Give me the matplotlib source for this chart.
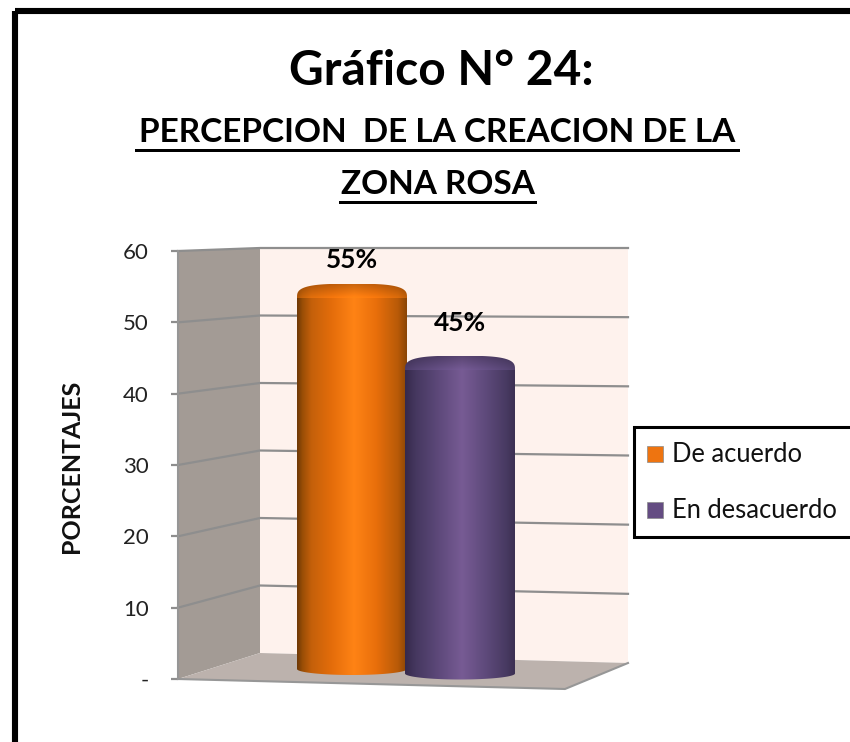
import numpy as np
import matplotlib
matplotlib.use("Agg")
import matplotlib.pyplot as plt
from matplotlib.patches import Polygon, Rectangle, PathPatch
from matplotlib.path import Path

categories = ["De acuerdo", "En desacuerdo"]
values = [55, 45]
value_labels = ["55%", "45%"]
y_ticks = [0, 10, 20, 30, 40, 50, 60]
y_tick_labels = ["-", "10", "20", "30", "40", "50", "60"]
title_main = "Gráfico N° 24:"
title_sub1 = "PERCEPCION  DE LA CREACION DE LA"
title_sub2 = "ZONA ROSA"
y_label = "PORCENTAJES"

W, H = 850, 742
plt.rcParams["font.family"] = ["Lato", "DejaVu Sans"]
fig = plt.figure(figsize=(W / 100, H / 100), dpi=100, facecolor="white")


def axes_px(x0, x1, ytop, ybot, **kw):
    return fig.add_axes([x0 / W, 1 - ybot / H, (x1 - x0) / W, (ybot - ytop) / H], **kw)


# Pixel-space layer for frame, walls, floor, titles and legend
bg = axes_px(0, W, 0, H)
bg.set_xlim(0, W)
bg.set_ylim(H, 0)
bg.axis("off")

# outer frame
bg.add_patch(Rectangle((15.5, 10.5), 900, 900, fill=False, ec="black", lw=4.4, zorder=1))

# walls / floor
FX, WX, RX = 178, 260, 628
front = lambda v: 679 - (679 - 251) * v / 60
wall_l = lambda v: 653 - (653 - 248) * v / 60
wall_r = lambda v: 663 - (663 - 248) * v / 60
bg.add_patch(Polygon([(FX, front(60)), (WX, wall_l(60)), (WX, wall_l(0)), (FX, front(0))],
                     fc="#A39B95", ec="none", zorder=2))
bg.add_patch(Polygon([(WX, wall_l(60)), (RX, wall_r(60)), (RX, wall_r(0)), (WX, wall_l(0))],
                     fc="#FEF2ED", ec="none", zorder=2))
bg.add_patch(Polygon([(FX, front(0)), (WX, wall_l(0)), (RX, wall_r(0)), (565, 689)],
                     fc="#BCB2AD", ec="none", zorder=2))
for v in y_ticks[1:]:
    bg.plot([FX, WX, RX], [front(v), wall_l(v), wall_r(v)], color="#8E8E8E", lw=1.6,
            zorder=3, solid_joinstyle="miter")
bg.plot([FX, 565, RX], [front(0), 689, wall_r(0)], color="#979797", lw=1.5, zorder=3)

# titles
bg.text(441, 71, title_main, ha="center", va="center", fontsize=34.5, fontweight="bold", color="black", zorder=5)
bg.text(437, 132, title_sub1, ha="center", va="center", fontsize=24, color="black", fontweight="bold", zorder=5)
bg.text(438, 184, title_sub2, ha="center", va="center", fontsize=24, color="black", fontweight="bold", zorder=5)
bg.add_patch(Rectangle((135, 149), 605, 3, fc="black", ec="none", zorder=5))
bg.add_patch(Rectangle((339, 200.5), 198, 3.5, fc="black", ec="none", zorder=5))

# legend
bg.add_patch(Rectangle((634.5, 426.5), 300, 110, fc="white", ec="black", lw=2.2, zorder=5))
swatches = ["#EE7410", "#644C82"]
for name, c, y in zip(categories, swatches, [454, 510]):
    bg.add_patch(Rectangle((647.5, y - 8.5), 16, 16, fc=c, ec="#8A8A8A", lw=0.5, zorder=6))
    bg.text(672, y, name, ha="left", va="center", fontsize=18.4, color="#111111", zorder=6)

# value axis
ay = axes_px(FX, RX, 251, 679)
ay.patch.set_alpha(0)
ay.set_ylim(0, 60)
ay.set_xticks([])
ay.set_yticks(y_ticks)
ay.set_yticklabels(y_tick_labels, fontsize=16, color="#222222")
ay.tick_params(axis="y", length=5, width=1.6, color="#8E8E8E", pad=16)
for s in ["top", "right", "bottom"]:
    ay.spines[s].set_visible(False)
ay.spines["left"].set_color("#969696")
ay.spines["left"].set_linewidth(1.5)
bg.text(72, 466, y_label, rotation=90, ha="center", va="center", fontsize=18,
        fontweight="bold", color="#111111", zorder=6)


def gradient(stops):
    pos = np.linspace(0, 1, 220)
    xs = [s[0] for s in stops]
    cols = np.array([matplotlib.colors.to_rgb(s[1]) for s in stops])
    return np.stack([np.interp(pos, xs, cols[:, i]) for i in range(3)], axis=-1)[None, :, :]


orange_stops = [(0, "#6E3805"), (0.05, "#9A4E06"), (0.13, "#C4600A"), (0.32, "#E56D0B"),
                (0.52, "#FF8315"), (0.72, "#E96F0B"), (0.92, "#B85A08"), (1, "#8A4606")]
purple_stops = [(0, "#362A4C"), (0.10, "#463860"), (0.32, "#5F4A7C"),
                (0.52, "#775B94"), (0.72, "#604B7D"), (0.92, "#483A62"), (1, "#3C3052")]
SCALE = 6.75  # px per unit


def draw_bar(val, label, x0, x1, base, stops, z, label_xy):
    ax = axes_px(x0, x1, base - 62 * SCALE, base + 2 * SCALE, zorder=z)
    ax.patch.set_alpha(0)
    ax.axis("off")
    bars = ax.bar([0], [val], width=1.0, color="none")
    ry_t = 14 / SCALE
    ry_b = 6 / SCALE
    t = np.linspace(0, np.pi, 60)
    n = 3.2
    xt = 0.5 * np.sign(np.cos(t)) * np.abs(np.cos(t)) ** (2 / n)
    yt = val + ry_t * np.abs(np.sin(t)) ** (2 / n)
    xb = -0.5 * np.cos(t)
    yb = -ry_b * np.sin(t)
    outline = Path(np.column_stack([np.r_[xt, xb], np.r_[yt, yb]]))
    clip = PathPatch(outline, transform=ax.transData, fc="none", ec="none")
    ax.add_patch(clip)
    g = gradient(stops)
    body = ax.imshow(g, extent=[-0.5, 0.5, -2, val], aspect="auto", zorder=2)
    body.set_clip_path(clip)
    # cap: darker at the rear, brighter along the front rim
    flat = np.clip(g * 0.55 + g.mean(axis=1, keepdims=True) * 0.45, 0, 1)
    f = np.linspace(1.12, 0.86, 24)[:, None, None]
    capimg = np.clip(flat * f, 0, 1)
    cap = ax.imshow(capimg, extent=[-0.5, 0.5, val, val + ry_t], origin="lower", aspect="auto", zorder=3)
    cap.set_clip_path(clip)
    ax.set_xlim(-0.5, 0.5)
    ax.set_ylim(-2, 62)
    bg.text(*label_xy, label, ha="center", va="center", fontsize=19, fontweight="bold",
            color="black", zorder=6)
    return bars


draw_bar(values[0], value_labels[0], 297, 407, 669, orange_stops, 4, (352, 260))
draw_bar(values[1], value_labels[1], 405, 515, 673.5, purple_stops, 5, (460, 323))

fig.savefig("out.png", dpi=100)
